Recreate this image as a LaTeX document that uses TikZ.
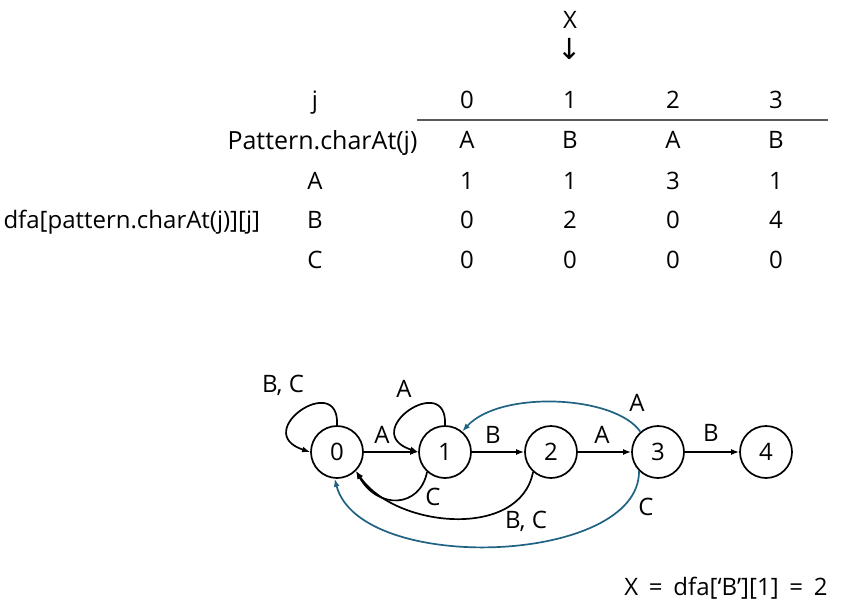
\documentclass[tikz,border=0pt]{standalone}
\usepackage{fontspec}
\setmainfont{Open Sans}
\newfontfamily\arrowfont{DejaVu Sans}
\usetikzlibrary{arrows.meta}

\definecolor{backblue}{RGB}{31,98,131}

\begin{document}
\begin{tikzpicture}[x=1pt,y=1pt,>={Latex[length=8pt,width=6pt]},
    every node/.style={font=\fontsize{24}{28}\selectfont,text depth=0pt},
    state/.style={draw,circle,line width=1.7pt,minimum size=52pt,inner sep=0pt},
    edge/.style={->,line width=1.7pt},
    back/.style={->,line width=1.7pt,draw=backblue}]
  \useasboundingbox (0,0) rectangle (849,-606);

  % Marker over column 1
  \node (X) at (570,-20) {X};
  \node [font=\arrowfont\fontsize{29}{32}\selectfont] (down) at (570,-49) {↓};

  % Row labels of the table
  \node (hj) at (315,-100) {j};
  \node [anchor=east,font=\fontsize{25}{28}\selectfont] (hpat) at (421,-140) {Pattern.charAt(j)};
  \node (hA) at (315,-181) {A};
  \node (hB) at (315,-220) {B};
  \node (hC) at (315,-260) {C};
  \node [anchor=west] (hdfa) at (0,-219) {dfa[pattern.charAt(j)][j]};
  \draw [line width=1.5pt,black!65] (417,-120) -- (828,-120);

  % The table columns
  \foreach \j/\x/\p/\a/\b/\c in {
    0/467/A/1/0/0,
    1/570/B/1/2/0,
    2/673/A/3/0/0,
    3/776/B/1/4/0} {
    \node (j\j) at (\x,-100) {\j};
    \node (p\j) at (\x,-140) {\p};
    \node (a\j) at (\x,-181) {\a};
    \node (b\j) at (\x,-220) {\b};
    \node (c\j) at (\x,-260) {\c};
  }

  % The states of the automaton
  \foreach \i/\x in {0/337,1/445,2/551,3/658,4/766} {
    \node [state] (s\i) at (\x,-452) {\i};
  }

  % Forward edges
  \draw [edge] (s0) -- (s1);
  \draw [edge] (s1) -- (s2);
  \draw [edge] (s2) -- (s3);
  \draw [edge] (s3) -- (s4);
  \draw [edge] (s0.north) .. controls +(3,55) and +(-61,20) .. (s0.west);
  \draw [edge] (s1.north) .. controls +(3,55) and +(-61,20) .. (s1.west);

  % Back edges
  \draw [edge] (s1.228) .. controls (420,-508) and (378,-510) .. (s0.-45);
  \draw [edge] (s2.228) .. controls (520,-540) and (395,-528) .. (s0.-45);
  \draw [back] (s3.131) .. controls (615,-395) and (500,-390) .. (s1.50);
  \draw [back] (s3.225) .. controls (640,-565) and (360,-575) .. (s0.-95);

  % Edge labels
  \node (l00) at (283,-384) {B, C};
  \node (l11) at (404,-389) {A};
  \node (l01) at (382,-435) {A};
  \node (l12) at (493,-435) {B};
  \node (l23) at (602,-435) {A};
  \node (l34) at (711,-433) {B};
  \node (l10) at (433,-497) {C};
  \node (l20) at (526,-520) {B, C};
  \node (l31) at (637,-403) {A};
  \node (l30) at (646,-507) {C};

  \node (res) at (726,-586) {X\hspace{.45em}=\hspace{.45em}dfa[‘B’][1]\hspace{.45em}=\hspace{.45em}2};
\end{tikzpicture}
\end{document}
